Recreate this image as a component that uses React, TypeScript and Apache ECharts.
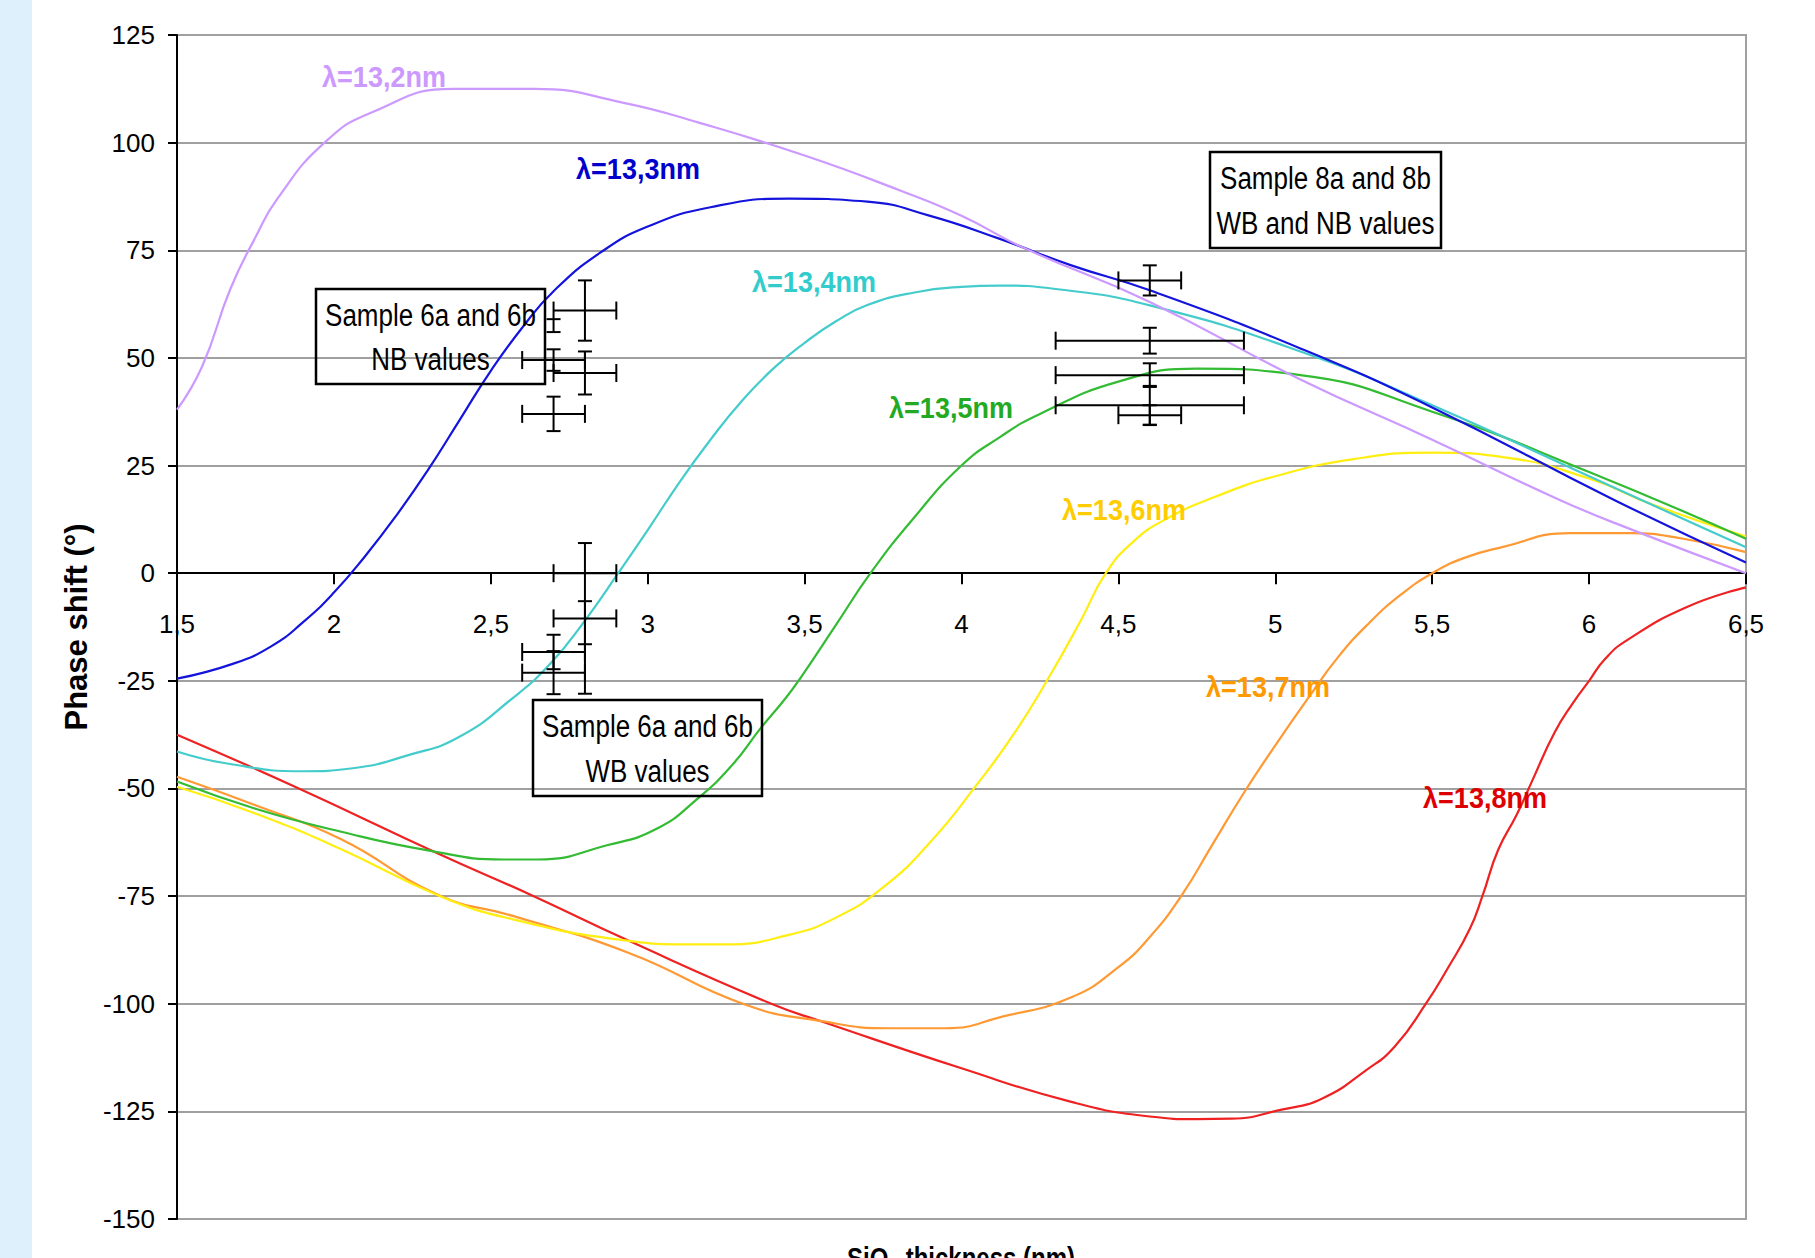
import React, { useEffect, useRef } from "react";
import * as echarts from "echarts";

// ---------- data ----------
const xTickMin = 1.5;
const xTickMax = 6.5;
const yTickMin = -150;
const yTickMax = 125;

const seriesNames = ["λ=13,2nm", "λ=13,3nm", "λ=13,4nm", "λ=13,5nm", "λ=13,6nm", "λ=13,7nm", "λ=13,8nm"];
const lineColors = ["#CC99FF", "#1414DC", "#44CCCC", "#33BB33", "#FFEE11", "#FF9933", "#EE2222"];
const labelColors = ["#CC99FF", "#0000CC", "#33CCCC", "#22AA22", "#FFCC00", "#FF9900", "#DD0000"];

const curve132 = [
  [1.5, 38], [1.58, 48], [1.67, 66], [1.75, 78], [1.82, 87], [1.97, 100], [2.12, 107],
  [2.38, 112.5], [2.64, 112.5], [2.92, 109.3], [3.16, 104.7], [3.5, 97], [3.8, 89],
  [4.0, 83], [4.2, 75.5], [4.6, 63], [5.08, 45], [5.5, 31], [5.91, 16.9], [6.14, 10], [6.5, 0],
];
const curve133 = [
  [1.5, -24.5], [1.68, -21], [1.8, -17], [1.9, -11.5], [2.0, -4.5], [2.1, 4], [2.2, 13.5],
  [2.3, 24], [2.4, 35.5], [2.5, 47], [2.6, 57], [2.7, 65.5], [2.85, 74.5], [3.0, 80.5],
  [3.2, 85], [3.45, 87], [3.7, 86.3], [3.9, 83], [4.12, 77.7], [4.35, 71.5], [4.6, 65.7],
  [5.08, 52.2], [5.5, 38.5], [6.08, 17], [6.5, 2.5],
];
const curve134 = [
  [1.5, -41.4], [1.66, -44.2], [1.9, -46], [2.06, -45.3], [2.24, -42.2], [2.4, -38], [2.57, -29],
  [2.69, -21], [2.8, -11], [2.906, 0], [3.0, 10], [3.1, 21], [3.2, 31], [3.3, 40], [3.4, 47.5],
  [3.5, 53.5], [3.6, 58.5], [3.7, 62.3], [3.85, 65.2], [4.0, 66.5], [4.12, 66.8], [4.3, 66],
  [4.6, 62.2], [5.08, 51.5], [5.5, 39], [6.0, 22.5], [6.5, 6],
];
const curve135 = [
  [1.5, -48.4], [1.75, -54.7], [2.02, -60], [2.3, -64.4], [2.54, -66.5], [2.65, -66.5],
  [2.87, -63.2], [3.03, -59.3], [3.16, -52.3], [3.27, -44.5], [3.36, -36], [3.44, -29],
  [3.49, -24], [3.6, -12], [3.71, 0], [3.85, 13], [4.0, 25], [4.12, 31.5], [4.25, 37],
  [4.5, 44.5], [4.75, 47.5], [5.08, 46], [5.5, 37.5], [6.0, 23.5], [6.5, 8],
];
const curve136 = [
  [1.5, -49.6], [1.75, -55.8], [2.02, -64], [2.335, -74.9], [2.57, -80.4], [2.94, -85.4],
  [3.12, -86.2], [3.25, -86.2], [3.45, -84], [3.6, -80], [3.75, -73], [3.9, -62.5],
  [4.05, -49], [4.17, -37], [4.28, -24], [4.38, -11], [4.46, 0], [4.55, 7.5], [4.65, 12.5],
  [4.8, 17.5], [5.0, 22.5], [5.25, 26.5], [5.5, 28], [5.73, 26.9], [6.0, 22], [6.2, 16], [6.5, 8.5],
];
const curve137 = [
  [1.5, -47.3], [1.75, -53.9], [2.02, -61.7], [2.335, -74.8], [2.57, -79.6], [2.94, -88.2],
  [3.31, -100.2], [3.55, -104], [3.77, -105.7], [3.95, -105.7], [4.13, -103], [4.35, -98.5],
  [4.5, -91.5], [4.6, -84.5], [4.7, -75], [4.8, -63], [4.9, -51], [5.0, -40], [5.1, -29.5],
  [5.2, -19.5], [5.3, -11.5], [5.4, -5], [5.5, 0], [5.6, 3.5], [5.72, 6], [5.94, 9.3],
  [6.13, 9.3], [6.3, 8], [6.5, 4.9],
];
const curve138 = [
  [1.5, -37.5], [1.876, -49.6], [2.335, -65.2], [2.63, -74.8], [2.94, -85.4], [3.4, -100.2],
  [3.55, -104], [4.0, -115], [4.35, -122.8], [4.6, -126.2], [4.75, -126.8], [4.86, -126.7],
  [5.02, -124.6], [5.15, -122], [5.29, -115.4], [5.38, -110], [5.48, -100], [5.55, -91.7],
  [5.62, -82.6], [5.66, -75], [5.71, -64.3], [5.77, -56], [5.82, -48], [5.89, -37],
  [5.95, -30], [6.0, -25], [6.05, -20], [6.12, -15.6], [6.31, -7.9], [6.5, -3.3],
];
const curves = [curve132, curve133, curve134, curve135, curve136, curve137, curve138];

// error bars: [x, y, xErr, yErr]
const sample6NB = [
  [2.8, 61, 0.1, 7],
  [2.7, 57.5, 0, 1.5],
  [2.7, 49.5, 0.1, 2.5],
  [2.8, 46.5, 0.1, 5],
  [2.7, 37, 0.1, 4],
];
const sample6WB = [
  [2.8, 0, 0.1, 0],
  [2.8, -10.5, 0.1, 17.5],
  [2.8, -11.5, 0, 5],
  [2.7, -18.3, 0.1, 4],
  [2.7, -23.1, 0.1, 5],
];
const sample8 = [
  [4.6, 68, 0.1, 3.5],
  [4.6, 54, 0.3, 3],
  [4.6, 46, 0.3, 2.75],
  [4.6, 39, 0.3, 4.5],
  [4.6, 36.7, 0.1, 2.3],
];

const boxTexts = ["Sample 6a and 6b\nNB values", "Sample 6a and 6b\nWB values", "Sample 8a and 8b\nWB and NB values"];
const yAxisTitle = "Phase shift (°)";
const xAxisTitle = "SiO₂ thickness (nm)";

// ---------- layout (pixels) ----------
const W = 1815;
const H = 1258;
const G_LEFT = 177;
const G_RIGHT = 1746;
const G_TOP = 35;
const G_BOTTOM = 1219;
const FONT = "'Liberation Sans', Arial, Helvetica, sans-serif";
const labelPos = [
  [384, 76], [638, 168], [814, 281], [951, 407], [1124, 509], [1268, 686], [1485, 797],
];
const boxRects = [
  [316, 289, 229, 95],
  [533, 700, 229, 96],
  [1210, 152, 231, 96],
];

function errorBarRender(params: any, api: any) {
  const x = api.value(0);
  const y = api.value(1);
  const ex = api.value(2);
  const ey = api.value(3);
  const style = { stroke: "#000", lineWidth: 2 };
  const children: any[] = [];
  const hc = 9;
  const vc = 7;
  if (ex > 0) {
    const l = api.coord([x - ex, y]);
    const r = api.coord([x + ex, y]);
    children.push({ type: "line", shape: { x1: l[0], y1: l[1], x2: r[0], y2: r[1] }, style });
    children.push({ type: "line", shape: { x1: l[0], y1: l[1] - hc, x2: l[0], y2: l[1] + hc }, style });
    children.push({ type: "line", shape: { x1: r[0], y1: r[1] - hc, x2: r[0], y2: r[1] + hc }, style });
  }
  if (ey > 0) {
    const t = api.coord([x, y + ey]);
    const b = api.coord([x, y - ey]);
    children.push({ type: "line", shape: { x1: t[0], y1: t[1], x2: b[0], y2: b[1] }, style });
    children.push({ type: "line", shape: { x1: t[0] - vc, y1: t[1], x2: t[0] + vc, y2: t[1] }, style });
    children.push({ type: "line", shape: { x1: b[0] - vc, y1: b[1], x2: b[0] + vc, y2: b[1] }, style });
  }
  return { type: "group", children };
}

function textEl(text: string, x: number, y: number, font: string, fill: string, scaleY: number, lineHeight?: number) {
  return {
    type: "text",
    x,
    y,
    scaleY,
    z: 50,
    style: {
      text,
      fill,
      font,
      lineHeight,
      align: "center",
      verticalAlign: "middle",
      textAlign: "center",
      textVerticalAlign: "middle",
    },
  };
}

export default function App() {
  const ref = useRef<HTMLDivElement>(null);
  useEffect(() => {
    const chart = echarts.init(ref.current!, null, { renderer: "svg" });

    const lineSeries = curves.map((data, i) => ({
      name: seriesNames[i],
      type: "line",
      data,
      showSymbol: false,
      smooth: 0.5,
      lineStyle: { color: lineColors[i], width: 2.2 },
      itemStyle: { color: lineColors[i] },
      z: 3 + (6 - i),
    }));

    const errSeries = [sample6NB, sample6WB, sample8].map((data) => ({
      type: "custom",
      data,
      encode: { x: 0, y: 1 },
      renderItem: errorBarRender,
      z: 20,
    }));

    const graphics: any[] = [
      { type: "rect", x: 0, y: 0, shape: { width: 32, height: H }, style: { fill: "#DFF0FD" }, z: 0 },
    ];
    seriesNames.forEach((name, i) => {
      graphics.push(textEl(name, labelPos[i][0], labelPos[i][1], `bold 27px ${FONT}`, labelColors[i], 1.12));
    });
    boxTexts.forEach((t, i) => {
      const [bx, by, bw, bh] = boxRects[i];
      graphics.push({
        type: "rect",
        x: bx,
        y: by,
        z: 40,
        shape: { width: bw, height: bh },
        style: { fill: "transparent", stroke: "#000", lineWidth: 2.5 },
      });
      graphics.push(textEl(t, bx + bw / 2, by + bh / 2, `26px ${FONT}`, "#000", 1.24, 36));
    });
    graphics.push(textEl(xAxisTitle, 961, 1258, `bold 24px ${FONT}`, "#000", 1.25));

    // x axis drawn at the zero of the y scale
    const gridH = G_BOTTOM - G_TOP;
    const zeroOffset = -gridH * (0 - yTickMin) / (yTickMax - yTickMin);

    chart.setOption({
      animation: false,
      backgroundColor: "#FFFFFF",
      grid: {
        left: G_LEFT,
        right: W - G_RIGHT,
        top: G_TOP,
        bottom: H - G_BOTTOM,
        show: true,
        backgroundColor: "#FFFFFF",
        borderColor: "#A0A0A0",
        borderWidth: 2,
        outerBoundsMode: "none",
      },
      xAxis: {
        type: "value",
        min: xTickMin,
        max: xTickMax,
        interval: 0.5,
        position: "bottom",
        offset: zeroOffset,
        axisLine: { show: true, onZero: false, lineStyle: { color: "#000", width: 2 } },
        axisTick: { show: true, length: 11, lineStyle: { color: "#000", width: 2 } },
        splitLine: { show: false },
        axisLabel: {
          color: "#000",
          fontFamily: FONT,
          fontSize: 26,
          margin: 38,
          formatter: (v: number) => String(v).replace(".", ","),
        },
      },
      yAxis: {
        type: "value",
        min: yTickMin,
        max: yTickMax,
        interval: 25,
        name: yAxisTitle,
        nameLocation: "middle",
        nameRotate: 90,
        nameGap: 82,
        nameTextStyle: { color: "#000", fontFamily: FONT, fontWeight: "bold", fontSize: 31 },
        axisLine: { show: true, onZero: false, lineStyle: { color: "#000", width: 2 } },
        axisTick: { show: true, length: 9, lineStyle: { color: "#000", width: 2 } },
        splitLine: { show: true, lineStyle: { color: "#A0A0A0", width: 2 } },
        axisLabel: { color: "#000", fontFamily: FONT, fontSize: 26, margin: 22 },
      },
      graphic: graphics,
      series: [...lineSeries, ...errSeries],
    });
    return () => chart.dispose();
  }, []);
  return <div ref={ref} style={{ position: "fixed", left: 0, top: 0, width: W, height: H }} />;
}
